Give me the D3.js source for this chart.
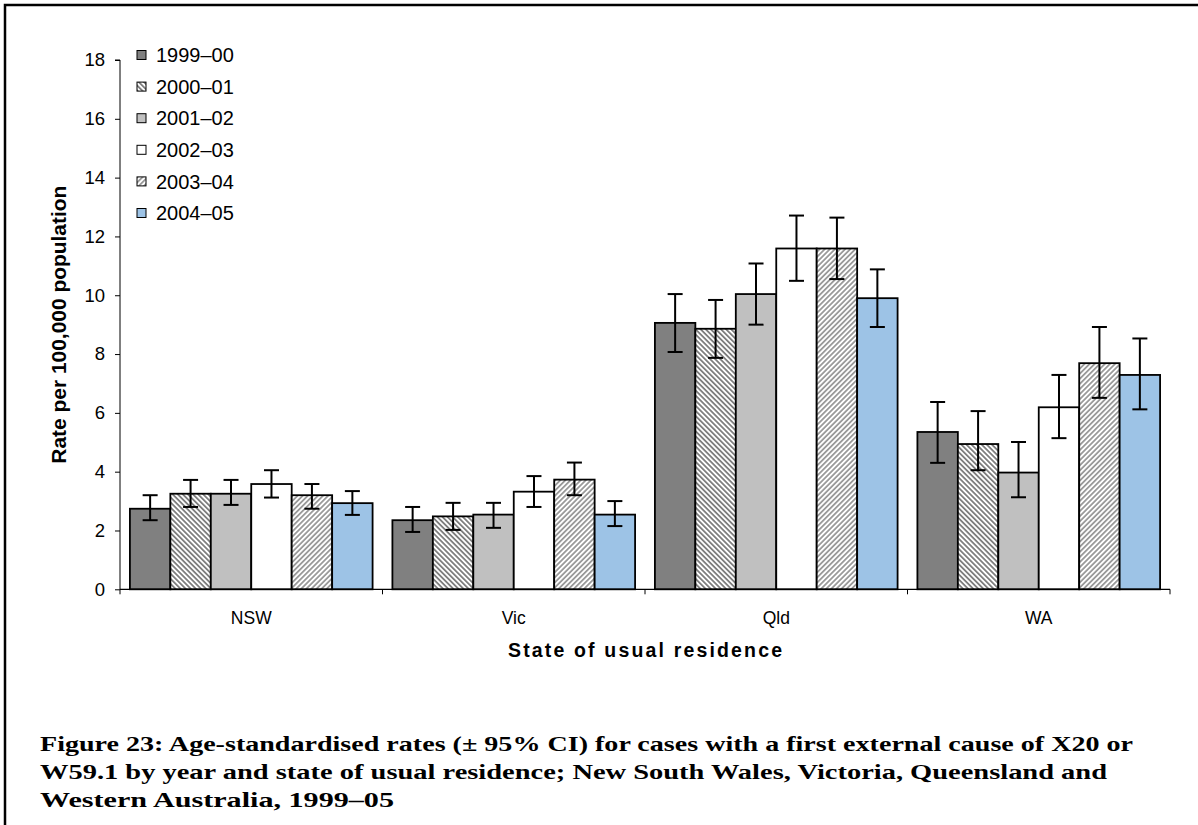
<!DOCTYPE html>
<html>
<head>
<meta charset="utf-8">
<script src="https://cdn.jsdelivr.net/npm/d3@7"></script>
<style>
  html, body { margin: 0; padding: 0; background: #fff; }
  svg { display: block; }
</style>
</head>
<body>
<svg id="chart" width="1198" height="825"></svg>
<script>
// States along the x axis and the financial years drawn as bars within each state
const states = ["NSW", "Vic", "Qld", "WA"];
const years = ["1999–00", "2000–01", "2001–02", "2002–03", "2003–04", "2004–05"];

// Age-standardised rate per 100,000 population, one array per year (NSW, Vic, Qld, WA)
const rate1999 = [2.74, 2.35, 9.06, 5.35];
const rate2000 = [3.25, 2.48, 8.86, 4.94];
const rate2001 = [3.25, 2.54, 10.04, 3.97];
const rate2002 = [3.58, 3.32, 11.59, 6.19];
const rate2003 = [3.20, 3.73, 11.59, 7.69];
const rate2004 = [2.93, 2.54, 9.90, 7.29];

// Lower 95% confidence limits
const low1999 = [2.35, 1.95, 8.07, 4.30];
const low2000 = [2.80, 2.02, 7.87, 4.05];
const low2001 = [2.87, 2.09, 9.00, 3.13];
const low2002 = [3.12, 2.80, 10.49, 5.14];
const low2003 = [2.74, 3.20, 10.55, 6.51];
const low2004 = [2.53, 2.15, 8.92, 6.12];

// Upper 95% confidence limits
const high1999 = [3.20, 2.80, 10.04, 6.37];
const high2000 = [3.72, 2.94, 9.84, 6.06];
const high2001 = [3.72, 2.94, 11.08, 5.01];
const high2002 = [4.05, 3.85, 12.71, 7.29];
const high2003 = [3.58, 4.31, 12.64, 8.92];
const high2004 = [3.34, 3.00, 10.88, 8.53];

const yTicks = [0, 2, 4, 6, 8, 10, 12, 14, 16, 18];

const captionLines = [
  "Figure 23: Age-standardised rates (± 95% CI) for cases with a first external cause of X20 or",
  "W59.1 by year and state of usual residence; New South Wales, Victoria, Queensland and",
  "Western Australia, 1999–05"
];

const rates = [rate1999, rate2000, rate2001, rate2002, rate2003, rate2004];
const lows = [low1999, low2000, low2001, low2002, low2003, low2004];
const highs = [high1999, high2000, high2001, high2002, high2003, high2004];

const svg = d3.select("#chart");
const sans = "Arial, 'Liberation Sans', sans-serif";
const serif = "'Palatino Linotype', 'Book Antiqua', Palatino, 'Liberation Serif', serif";

// Hatch patterns
const defs = svg.append("defs");
function hatch(id, angle, stripe, period, width) {
  const p = defs.append("pattern")
    .attr("id", id)
    .attr("patternUnits", "userSpaceOnUse")
    .attr("width", period).attr("height", period)
    .attr("patternTransform", `rotate(${angle})`);
  p.append("rect").attr("width", period).attr("height", period).attr("fill", "#fff");
  p.append("rect").attr("width", width).attr("height", period).attr("fill", stripe);
}
hatch("hatchDown", -45, "#7f7f7f", 3.6, 1.8);
hatch("hatchUp", 45, "#9a9a9a", 3.6, 1.8);

const fills = ["#808080", "url(#hatchDown)", "#c0c0c0", "#ffffff", "url(#hatchUp)", "#9dc3e6"];

// Outer frame
svg.append("path")
  .attr("d", "M5,825 V5 H1198")
  .attr("fill", "none").attr("stroke", "#000").attr("stroke-width", 2.5);

const plot = { left: 120, right: 1170, top: 60, bottom: 589.3 };

const x0 = d3.scaleBand().domain(states).range([plot.left, plot.right]).paddingInner(0).paddingOuter(0);
const x1 = d3.scaleBand().domain(d3.range(years.length))
  .range([0, x0.bandwidth()]).paddingInner(0).paddingOuter(0.245);
const y = d3.scaleLinear().domain([0, 18]).range([plot.bottom, plot.top]);

// Bars
const groups = svg.append("g").selectAll("g")
  .data(states)
  .join("g")
  .attr("transform", d => `translate(${x0(d)},0)`);

groups.selectAll("rect")
  .data((s, si) => years.map((yr, k) => ({ k, v: rates[k][si] })))
  .join("rect")
  .attr("x", d => x1(d.k))
  .attr("y", d => y(d.v))
  .attr("width", x1.bandwidth())
  .attr("height", d => y(0) - y(d.v))
  .attr("fill", d => fills[d.k])
  .attr("stroke", "#000")
  .attr("stroke-width", 1.8);

// Error bars
const capHalf = 7.5;
groups.selectAll("g.err")
  .data((s, si) => years.map((yr, k) => ({ k, lo: lows[k][si], hi: highs[k][si] })))
  .join("g")
  .attr("class", "err")
  .each(function (d) {
    const g = d3.select(this);
    const cx = x1(d.k) + x1.bandwidth() / 2;
    g.append("line").attr("x1", cx).attr("x2", cx).attr("y1", y(d.lo)).attr("y2", y(d.hi));
    g.append("line").attr("x1", cx - capHalf).attr("x2", cx + capHalf).attr("y1", y(d.lo)).attr("y2", y(d.lo));
    g.append("line").attr("x1", cx - capHalf).attr("x2", cx + capHalf).attr("y1", y(d.hi)).attr("y2", y(d.hi));
  })
  .selectAll("line")
  .attr("stroke", "#000").attr("stroke-width", 2);

// Y axis
const yAxis = svg.append("g")
  .attr("transform", `translate(${plot.left},0)`)
  .call(d3.axisLeft(y).tickValues(yTicks).tickSize(5).tickPadding(10).tickFormat(d3.format("d")));
yAxis.select(".domain").attr("stroke", "#000").attr("stroke-width", 1).attr("d", `M-5,${y(18)}H0V${y(0)}`);
yAxis.selectAll(".tick line").attr("stroke", "#000");
yAxis.selectAll(".tick text").attr("font-family", sans).attr("font-size", 18.5).attr("fill", "#000");

// X axis: ticks at the category boundaries
const xg = svg.append("g").attr("transform", `translate(0,${plot.bottom})`);
xg.append("line").attr("x1", plot.left).attr("x2", plot.right).attr("stroke", "#000").attr("stroke-width", 1.2);
const bounds = states.map(s => x0(s)).concat([plot.right]);
xg.selectAll("line.tk").data(bounds).join("line").attr("class", "tk")
  .attr("x1", d => d).attr("x2", d => d).attr("y1", 0).attr("y2", 5)
  .attr("stroke", "#000");
xg.selectAll("text").data(states).join("text")
  .attr("x", d => x0(d) + x0.bandwidth() / 2)
  .attr("y", 35)
  .attr("text-anchor", "middle")
  .attr("font-family", sans).attr("font-size", 17.5)
  .text(d => d);

// Axis titles
svg.append("text")
  .attr("x", (plot.left + plot.right) / 2).attr("y", 657)
  .attr("text-anchor", "middle")
  .attr("font-family", sans).attr("font-size", 19.5).attr("font-weight", "bold")
  .attr("textLength", 274).attr("lengthAdjust", "spacing")
  .text("State of usual residence");

svg.append("text")
  .attr("transform", `translate(66,${(plot.top + plot.bottom) / 2}) rotate(-90)`)
  .attr("text-anchor", "middle")
  .attr("font-family", sans).attr("font-size", 20).attr("font-weight", "bold")
  .attr("textLength", 278).attr("lengthAdjust", "spacingAndGlyphs")
  .text("Rate per 100,000 population");

// Legend
const legend = svg.append("g").attr("transform", "translate(137,55)");
const items = legend.selectAll("g").data(years).join("g")
  .attr("transform", (d, i) => `translate(0,${i * 31.6})`);
items.append("rect")
  .attr("x", 0).attr("y", -4.5).attr("width", 9).attr("height", 9)
  .attr("fill", (d, i) => fills[i]).attr("stroke", "#000").attr("stroke-width", 1);
items.append("text")
  .attr("x", 19).attr("y", 0).attr("dy", "0.36em")
  .attr("font-family", sans).attr("font-size", 20)
  .text(d => d);

// Caption
const captionWidths = [1093, 1067, 354];
svg.append("g").selectAll("text").data(captionLines).join("text")
  .attr("x", 40)
  .attr("y", (d, i) => 751 + i * 28)
  .attr("font-family", serif).attr("font-size", 21.5).attr("font-weight", "bold")
  .attr("textLength", (d, i) => captionWidths[i])
  .attr("lengthAdjust", "spacingAndGlyphs")
  .text(d => d);
</script>
</body>
</html>
